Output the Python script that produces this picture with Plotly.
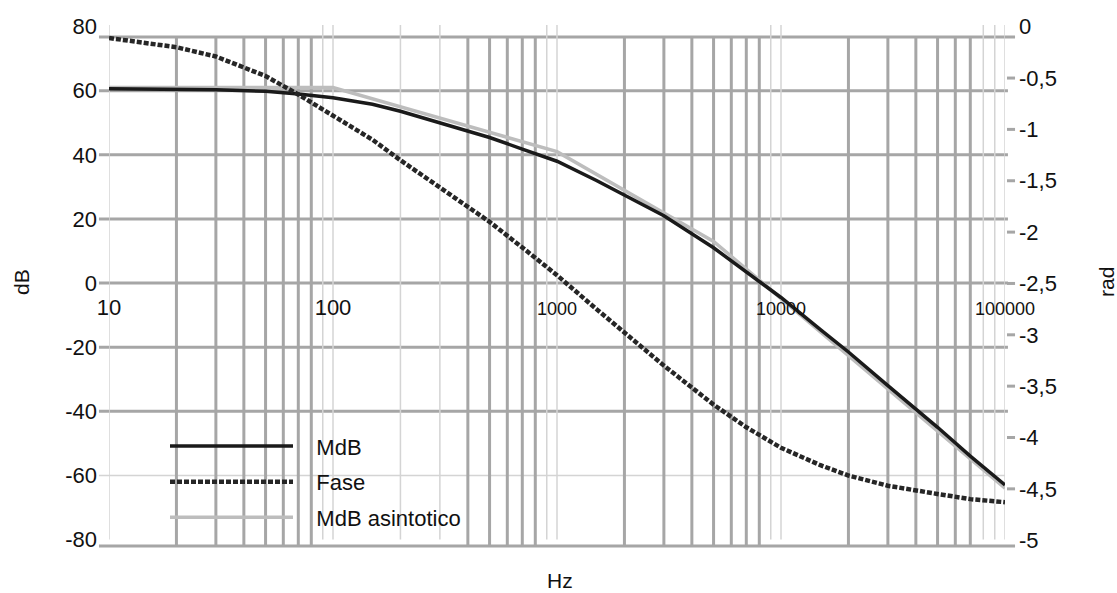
import plotly.graph_objects as go

# ---------------- data ----------------
freq = [10, 20, 30, 50, 70, 100, 150, 200, 300, 500, 700, 1000, 1500, 2000,
        3000, 5000, 7000, 10000, 15000, 20000, 30000, 50000, 70000, 100000]
mdb = [60.6, 60.5, 60.3, 59.8, 59.0, 57.8, 55.8, 53.6, 50.0, 45.4, 41.8, 38.0,
       32.0, 27.5, 21.0, 11.0, 3.5, -4.5, -14.5, -21.5, -32.0, -45.0, -54.0, -63.0]
fase = [-0.11, -0.20, -0.29, -0.48, -0.66, -0.86, -1.10, -1.30, -1.57, -1.90,
        -2.15, -2.42, -2.75, -2.98, -3.30, -3.68, -3.90, -4.10, -4.27, -4.37,
        -4.47, -4.55, -4.60, -4.63]
asin_freq = [10, 100, 1000, 5000, 100000]
asin_db = [61, 61, 41, 13, -64]

series_names = ["MdB", "Fase", "MdB asintotico"]

x_tickvals = [10, 100, 1000, 10000, 100000]
x_ticktext = ["10", "100",
              "<span style='font-size:18px'>1000</span>",
              "<span style='font-size:18px'>10000</span>",
              "<span style='font-size:18px'>100000</span>"]
db_ticks = [80, 60, 40, 20, 0, -20, -40, -60, -80]
db_labels = ["80", "60", "40", "20", "0", "-20", "-40", "-60", "-80"]
rad_ticks = [0, -0.5, -1, -1.5, -2, -2.5, -3, -3.5, -4, -4.5, -5]
rad_labels = ["0", "-0,5", "-1", "-1,5", "-2", "-2,5", "-3", "-3,5", "-4", "-4,5", "-5"]

thin_grid_x = [10, 90, 100, 200, 300, 900, 1000, 9000, 10000, 80000, 90000, 100000]
thick_grid_x = [20, 30, 40, 50, 60, 70, 80, 400, 500, 600, 700, 800,
                2000, 3000, 4000, 5000, 6000, 7000, 8000,
                20000, 30000, 40000, 50000, 60000, 70000]
thick_grid_db = [60, 40, 20, 0, -20, -40]
thin_grid_db = [-60]

# ---------------- styling ----------------
FONT = "Liberation Sans, Arial, sans-serif"
TXT = "#111111"
THICK = "#a6a6a6"
THIN = "#d4d4d4"
PAD = "\u00a0\u00a0\u00a0"
y_range = [-82.65, 80.5]
y2_range = [-5.076, 0.0166]
top_line_db = 76.75
bottom_line_db = -82.0

fig = go.Figure()
fig.add_trace(go.Scatter(x=asin_freq, y=asin_db, name=PAD + series_names[2], mode="lines",
                         line=dict(color="#bdbdbd", width=3.5),
                         legendgroup="c", legendrank=3))
fig.add_trace(go.Scatter(x=freq, y=mdb, name=PAD + series_names[0], mode="lines",
                         line=dict(color="#1a1a1a", width=3.5),
                         legendgroup="a", legendrank=1))
fig.add_trace(go.Scatter(x=freq, y=fase, name=PAD + series_names[1], mode="lines", yaxis="y2",
                         line=dict(color="#262626", width=4.5, dash="5px,2px"),
                         legendgroup="b", legendrank=2))

shapes = []
for v in thin_grid_x:
    shapes.append(dict(type="line", xref="x", yref="y", x0=v, x1=v,
                       y0=-80, y1=y_range[1], layer="below",
                       line=dict(color=THIN, width=1.5)))
for v in thick_grid_x:
    shapes.append(dict(type="line", xref="x", yref="y", x0=v, x1=v,
                       y0=bottom_line_db, y1=top_line_db, layer="below",
                       line=dict(color=THICK, width=3)))
for v in thick_grid_db:
    shapes.append(dict(type="line", xref="paper", yref="y", x0=-0.0112, x1=1.0033,
                       y0=v, y1=v, layer="below", line=dict(color=THICK, width=3)))
for v in thin_grid_db:
    shapes.append(dict(type="line", xref="paper", yref="y", x0=-0.0112, x1=1.0,
                       y0=v, y1=v, layer="below", line=dict(color=THIN, width=1.5)))
for v in [top_line_db, bottom_line_db]:
    shapes.append(dict(type="line", xref="paper", yref="y", x0=-0.0112, x1=1.0112,
                       y0=v, y1=v, layer="below", line=dict(color=THICK, width=3)))
for v in rad_ticks[1:-1]:
    shapes.append(dict(type="line", xref="paper", yref="y2", x0=1.0022, x1=1.0112,
                       y0=v, y1=v, layer="below", line=dict(color=THICK, width=3)))

zero_pos = (0 - y_range[0]) / (y_range[1] - y_range[0])

fig.update_layout(
    width=1117, height=593, autosize=False,
    margin=dict(l=109, r=112, t=25, b=45),
    paper_bgcolor="white", plot_bgcolor="white",
    font=dict(family=FONT, size=22, color=TXT),
    shapes=shapes,
    xaxis=dict(type="log", range=[1, 5], showgrid=False, zeroline=False,
               showline=False, ticks="", tickvals=x_tickvals, ticktext=x_ticktext,
               anchor="free", position=zero_pos, ticklabelstandoff=9,
               tickfont=dict(size=22, family=FONT, color=TXT)),
    yaxis=dict(range=y_range, showgrid=False, zeroline=False, showline=False,
               ticks="", tickvals=db_ticks, ticktext=db_labels, ticklabelstandoff=11,
               tickfont=dict(size=22, family=FONT, color=TXT)),
    yaxis2=dict(range=y2_range, overlaying="y", side="right", showgrid=False,
                zeroline=False, showline=False, ticks="", tickvals=rad_ticks,
                ticktext=rad_labels, ticklabelstandoff=13,
                tickfont=dict(size=22, family=FONT, color=TXT)),
    legend=dict(x=0.0625, y=0.2347, xanchor="left", yanchor="top",
                bgcolor="rgba(0,0,0,0)", itemwidth=123, tracegroupgap=4,
                traceorder="grouped",
                font=dict(size=22, family=FONT, color=TXT)),
    annotations=[
        dict(text="Hz", xref="paper", yref="paper", x=0.503, y=-0.0612,
             showarrow=False, font=dict(size=21, family=FONT, color=TXT),
             xanchor="center", yanchor="middle"),
        dict(text="dB", xref="paper", yref="paper", x=-0.0982, y=0.5086,
             textangle=-90, showarrow=False,
             font=dict(size=21, family=FONT, color=TXT),
             xanchor="center", yanchor="middle"),
        dict(text="rad", xref="paper", yref="paper", x=1.1127, y=0.5086,
             textangle=-90, showarrow=False,
             font=dict(size=21, family=FONT, color=TXT),
             xanchor="center", yanchor="middle"),
    ],
)

fig.write_html(
    "out.html",
    config={"displayModeBar": False},
    post_script="document.body.style.margin='0';document.body.style.padding='0';"
                "document.body.style.overflow='hidden';",
)
